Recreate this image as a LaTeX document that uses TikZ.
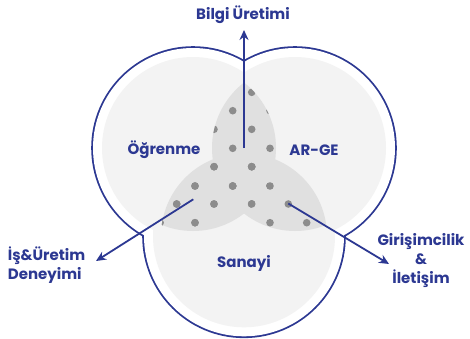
\documentclass[tikz,border=0pt]{standalone}
\usepackage{fontspec}
\setmainfont{Poppins}
\usetikzlibrary{arrows.meta}
\definecolor{navy}{RGB}{44,56,146}
\definecolor{softgray}{RGB}{243,243,243}
\definecolor{lensgray}{RGB}{224,224,224}
\definecolor{dotgray}{RGB}{140,140,140}
\tikzset{
  label/.style={text=navy, font=\bfseries\fontsize{15}{19}\selectfont, align=center, inner sep=0pt},
  dot/.style={fill=dotgray}
}
\newcommand{\lensdots}{%
  \foreach \px/\py in {251.7/92.3, 232.7/110.7, 270/110.7, 214/129.3, 251.7/129.3,
      232.7/148.3, 270/148.3, 214/166.7, 251.7/166.7, 195/186, 232.7/186, 270/186,
      176.7/204, 214/204, 251.7/204, 288.3/204, 160/222.7, 195/222.7, 270/222.7, 306.7/222.7}
    {\fill[dot] (\px,\py) circle (3.8pt);}%
}
\begin{document}
\begin{tikzpicture}[>={Stealth[length=10pt,width=9pt]}, x=1pt, y=-1pt, line width=1.8pt]
\useasboundingbox[fill=white] (0,0) rectangle (470,338);
\coordinate (ogr) at (193,148);
\coordinate (arge) at (295,148);
\coordinate (san) at (244,236.3);
% outer ring
\foreach \c in {ogr,arge,san}
  \draw[navy, line width=3.6pt] (\c) circle (100pt);
\foreach \c in {ogr,arge,san}
  \fill[white] (\c) circle (100pt);
\foreach \c in {ogr,arge,san}
  \fill[softgray] (\c) circle (91pt);
% overlaps
\begin{scope}
  \clip (ogr) circle (83pt);
  \fill[lensgray] (arge) circle (83pt);
  \fill[lensgray] (san) circle (83pt);
  \clip (arge) circle (83pt); \lensdots
\end{scope}
\begin{scope}
  \clip (san) circle (83pt);
  \fill[lensgray] (arge) circle (83pt);
  \clip (ogr) circle (83pt); \lensdots
\end{scope}
\begin{scope}
  \clip (san) circle (83pt);
  \clip (arge) circle (83pt); \lensdots
\end{scope}
\begin{scope}
  \clip (san) circle (83pt);
  \clip (ogr) circle (83pt); \lensdots
\end{scope}
% texts
\node[label] (ogrt) at (164,150) {Öğrenme};
\node[label] (arget) at (314,150) {AR-GE};
\node[label] (sant) at (244,263) {Sanayi};
\node[label] (bilgi) at (243,15) {Bilgi Üretimi};
\node[label, align=left, anchor=west] (is) at (7,265) {İş\&Üretim\\Deneyimi};
\node[label] (giri) at (421,261) {Girişimcilik\\\&\\İletişim};
% arrows
\coordinate (topA) at (244,148);
\coordinate (topB) at (244,30);
\coordinate (leftA) at (193.3,199.3);
\coordinate (leftB) at (96,261);
\coordinate (rightA) at (288.3,203.5);
\coordinate (rightB) at (389,264);
\draw[->, navy] (topA) -- (topB);
\draw[->, navy] (leftA) -- (leftB);
\draw[->, navy] (rightA) -- (rightB);
\end{tikzpicture}
\end{document}
